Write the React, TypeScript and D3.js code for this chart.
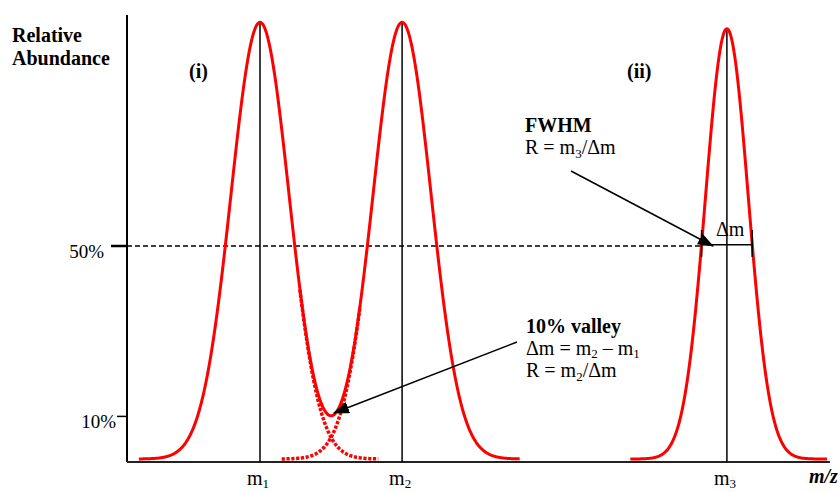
import React from 'react';
import * as d3 from 'd3';

// peaks: centre (m/z units), width (sigma), height (% relative abundance)
const peakNames = ['m1', 'm2', 'm3'];
const peakCentres = [19, 39.3, 85.7];
const peakSigmas = [4.14, 4.14, 3.07];
const peakHeights = [102.5, 102.5, 101];

// drawn ranges of each curve
const envelopeRange = [1.7, 56.1];   // m1 + m2 sum
const peak3Range = [71.9, 100];
const tail1Range = [24.7, 35.9];     // dotted m1 tail
const tail2Range = [22.1, 33.3];     // dotted m2 tail

const yTickLabels = ['50%', '10%'];
const yTickValues = [50, 10];

const W = 840, H = 492;
const axisY = 462;
const font = '"Liberation Serif", "Times New Roman", serif';

const x = d3.scaleLinear().domain([0, 100]).range([127, 827]);
const y = d3.scaleLinear().domain([0, 50]).range([459, 246]);

function gauss(v: number, i: number) {
  const d = v - peakCentres[i];
  return peakHeights[i] * Math.exp(-(d * d) / (2 * peakSigmas[i] * peakSigmas[i]));
}

function sample(range: number[], f: (v: number) => number) {
  const pts: [number, number][] = [];
  for (let v = range[0]; v <= range[1] + 1e-9; v += 0.1) pts.push([v, f(v)]);
  return pts;
}

const line = d3.line<[number, number]>().x(d => x(d[0])).y(d => y(d[1])).curve(d3.curveMonotoneX);

// text with subscripts: "_x" marks a subscript part
function rich(parts: string[], shift = 4) {
  let off = 0;
  return parts.map((p, i) => {
    const sub = p.startsWith('_');
    const target = sub ? shift : 0;
    const dy = target - off;
    off = target;
    return (
      <tspan key={i} dy={dy} fontSize={sub ? 13 : undefined}>{sub ? p.slice(1) : p}</tspan>
    );
  });
}

export default function App() {
  const envelope = sample(envelopeRange, v => gauss(v, 0) + gauss(v, 1));
  const peak3 = sample(peak3Range, v => gauss(v, 2));
  const tail1 = sample(tail1Range, v => gauss(v, 0));
  const tail2 = sample(tail2Range, v => gauss(v, 1));

  const halfW = peakSigmas[2] * Math.sqrt(2 * Math.log(2));
  const fwL = x(peakCentres[2] - halfW);
  const fwR = x(peakCentres[2] + halfW);
  const yHalf = y(peakHeights[2] / 2);

  return (
    <svg width={W} height={H} style={{ position: 'absolute', left: 0, top: 0, background: '#fff' }} fontFamily={font}>
      <defs>
        <marker id="arr" markerUnits="userSpaceOnUse" markerWidth={16} markerHeight={12}
          refX={15} refY={6} orient="auto" viewBox="0 0 16 12">
          <path d="M0,0 L16,6 L0,12 Z" fill="#000" />
        </marker>
      </defs>

      {/* axes */}
      <line x1={127} x2={127} y1={15} y2={axisY} stroke="#000" strokeWidth={2} />
      <line x1={127} x2={830} y1={axisY} y2={axisY} stroke="#222" strokeWidth={2} />

      {/* y ticks */}
      {yTickValues.map((v, i) => (
        <g key={v}>
          <line x1={i === 0 ? 111 : 117} x2={127} y1={y(v)} y2={y(v)} stroke="#000" strokeWidth={i === 0 ? 2.5 : 1.5} />
          <text x={i === 0 ? 104 : 116} y={y(v) + 12} textAnchor="end" fontSize={19}>{yTickLabels[i]}</text>
        </g>
      ))}
      <line x1={127} x2={fwL} y1={y(50)} y2={y(50)} stroke="#000" strokeWidth={1.5} strokeDasharray="5,3" />

      {/* peak centre lines */}
      {peakCentres.map((c, i) => (
        <line key={c} x1={x(c)} x2={x(c)} y1={y(peakHeights[i])} y2={axisY} stroke="#000" strokeWidth={1.5} />
      ))}

      {/* curves */}
      <path d={line(tail1) || ''} fill="none" stroke="#f00" strokeWidth={3.5} strokeDasharray="3.2,1.6" />
      <path d={line(tail2) || ''} fill="none" stroke="#f00" strokeWidth={3.5} strokeDasharray="3.2,1.6" />
      <path d={line(envelope) || ''} fill="none" stroke="#f00" strokeWidth={3} />
      <path d={line(peak3) || ''} fill="none" stroke="#f00" strokeWidth={3} />

      {/* FWHM bracket */}
      <line x1={fwL} x2={fwR} y1={yHalf + 1} y2={yHalf + 1} stroke="#000" strokeWidth={1.5} />
      <line x1={fwL} x2={fwL} y1={230} y2={257} stroke="#000" strokeWidth={1.5} />
      <line x1={fwR} x2={fwR} y1={230} y2={257} stroke="#000" strokeWidth={1.5} />
      <text x={716} y={236} fontSize={20}>Δm</text>

      {/* arrows */}
      <line x1={571} y1={171} x2={713} y2={246} stroke="#000" strokeWidth={1.5} markerEnd="url(#arr)" />
      <line x1={517} y1={342} x2={334} y2={413} stroke="#000" strokeWidth={1.5} markerEnd="url(#arr)" />

      {/* labels */}
      <text x={12} y={42} fontSize={20} fontWeight="bold">Relative</text>
      <text x={12} y={65} fontSize={20} fontWeight="bold">Abundance</text>
      <text x={189} y={78} fontSize={20} fontWeight="bold">(i)</text>
      <text x={627} y={78} fontSize={20} fontWeight="bold">(ii)</text>

      <text x={525} y={132} fontSize={20} fontWeight="bold">FWHM</text>
      <text x={525} y={154} fontSize={20}>{rich(['R = m', '_3', '/Δm'])}</text>

      <text x={526} y={333} fontSize={20} fontWeight="bold">10% valley</text>
      <text x={526} y={355} fontSize={20}>{rich(['Δm = m', '_2', ' – m', '_1'], 3)}</text>
      <text x={526} y={377} fontSize={20}>{rich(['R = m', '_2', '/Δm'])}</text>

      {peakCentres.map((c, i) => (
        <text key={peakNames[i]} x={x(c) - 13} y={485} fontSize={20}>{rich(['m', '_' + peakNames[i].slice(1)], 3)}</text>
      ))}
      <text x={809} y={483} fontSize={20} fontWeight="bold" fontStyle="italic">m/z</text>
    </svg>
  );
}
